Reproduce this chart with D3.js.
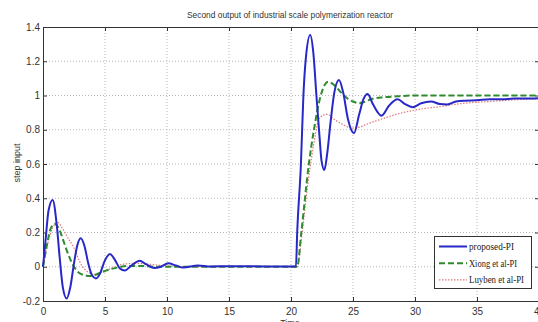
<!doctype html>
<html lang="en">
<head>
  <meta charset="utf-8">
  <title>Second output of industrial scale polymerization reactor</title>
  <style>
    body { margin: 0; background: #fff; }
    svg { display: block; }
    .grid line { stroke: #b8b8b8; stroke-width: 1; stroke-dasharray: 1, 2; }
    .tick-label { fill: #333; font: 10px "Liberation Sans Narrow", "Liberation Sans", sans-serif; }
    .legend text { fill: #222; font: 10px "Liberation Serif", serif; }
  </style>
</head>
<body>
  <div id="chart"></div>

  <script src="https://d3js.org/d3.v7.min.js"></script>
  <script>
// values: [time, output]
const proposedPI = [
  [0, 0], [0.2, 0.15], [0.45, 0.33], [0.78, 0.39], [1.1, 0.25], [1.35, 0.05],
  [1.6, -0.12], [1.91, -0.185], [2.2, -0.12], [2.5, 0.02], [2.75, 0.12], [3.04, 0.166],
  [3.35, 0.12], [3.65, 0.02], [3.95, -0.05], [4.27, -0.068], [4.6, -0.04], [4.95, 0.03],
  [5.4, 0.074], [5.8, 0.04], [6.2, -0.01], [6.6, -0.022], [7.1, 0.005], [7.8, 0.035],
  [8.3, 0.015], [9.0, -0.008], [9.5, 0.0], [10.1, 0.02], [10.7, 0.008], [11.3, -0.005],
  [12.5, 0.008], [13.5, 0.002], [15, 0.003], [18, 0.002], [20.4, 0.002],
  [20.5, 0.2], [20.8, 0.6], [21.0, 1.0], [21.2, 1.22], [21.55, 1.353], [21.8, 1.25],
  [22.05, 1.0], [22.3, 0.76], [22.46, 0.62], [22.69, 0.565], [22.9, 0.65], [23.2, 0.85],
  [23.5, 1.02], [23.87, 1.09], [24.2, 1.02], [24.6, 0.86], [25.08, 0.78], [25.5, 0.89],
  [25.85, 0.98], [26.18, 1.009], [26.6, 0.95], [27.3, 0.882], [27.9, 0.94], [28.6, 0.978],
  [29.2, 0.95], [29.8, 0.932], [30.5, 0.955], [31.3, 0.965], [32.0, 0.95], [32.6, 0.948],
  [33.3, 0.965], [34.0, 0.97], [35, 0.972], [36, 0.978], [37, 0.978], [38, 0.982],
  [39, 0.982], [40, 0.985]
];

const xiongPI = [
  [0, 0], [0.3, 0.12], [0.6, 0.22], [0.95, 0.25], [1.3, 0.22], [1.7, 0.14], [2.1, 0.06],
  [2.5, 0.0], [2.9, -0.035], [3.4, -0.05], [3.8, -0.054], [4.3, -0.045], [4.8, -0.03],
  [5.4, -0.015], [6.0, -0.005], [7.0, 0.005], [8.0, 0.005], [9.0, 0.0], [10, 0.0],
  [20.5, 0.0], [20.83, 0.2], [21.44, 0.6], [21.85, 0.8], [22.4, 1.0], [22.7, 1.06],
  [23.0, 1.08], [23.5, 1.06], [24.0, 1.02], [24.5, 0.985], [25.0, 0.965], [25.5, 0.955],
  [26.0, 0.965], [26.5, 0.98], [27.5, 0.99], [28.5, 0.995], [30, 1.0], [40, 1.0]
];

const luybenPI = [
  [0, 0], [0.4, 0.14], [0.8, 0.23], [1.15, 0.26], [1.6, 0.22], [2.0, 0.17], [2.45, 0.117],
  [3.1, 0.01], [3.6, -0.03], [4.2, -0.045], [4.8, -0.03], [5.5, -0.01], [6.5, 0.015],
  [7.5, 0.02], [8.5, 0.015], [10, 0.005], [12, 0.0], [20.5, 0.0],
  [20.9, 0.2], [21.3, 0.45], [21.8, 0.7], [22.3, 0.87], [22.9, 0.89], [23.5, 0.86],
  [24.2, 0.83], [24.9, 0.81], [25.5, 0.815], [26.2, 0.835], [27.2, 0.86], [28.5, 0.89],
  [30, 0.915], [32, 0.935], [34, 0.955], [36, 0.965], [38, 0.975], [40, 0.98]
];

const seriesNames = ['proposed-PI', 'Xiong et al-PI', 'Luyben et al-PI'];
const xTicks = [0, 5, 10, 15, 20, 25, 30, 35, 40];
const yTicks = [-0.2, 0, 0.2, 0.4, 0.6, 0.8, 1, 1.2, 1.4];

const width = 538;
const height = 322;

const svg = d3.select('#chart')
  .append('svg')
  .attr('width', width)
  .attr('height', height);

// axes box, the right edge falls just outside the picture
const x = d3.scaleLinear().domain([0, 40]).range([43, 539]);
const y = d3.scaleLinear().domain([-0.2, 1.4]).range([301, 27]);

// dotted grid
const grid = svg.append('g').attr('class', 'grid');
grid.selectAll('line.gx')
  .data(xTicks.slice(1, -1))
  .join('line')
  .attr('class', 'gx')
  .attr('x1', d => x(d)).attr('x2', d => x(d))
  .attr('y1', y(1.4)).attr('y2', y(-0.2));
grid.selectAll('line.gy')
  .data(yTicks.slice(1, -1))
  .join('line')
  .attr('class', 'gy')
  .attr('x1', x(0)).attr('x2', x(40))
  .attr('y1', d => y(d)).attr('y2', d => y(d));

// axes with inward ticks, matlab style
const fmt = d => String(+d.toFixed(1));

svg.append('g')
  .attr('transform', 'translate(0,' + y(-0.2) + ')')
  .call(d3.axisBottom(x).tickValues(xTicks).tickSize(-4).tickPadding(7).tickFormat(fmt));
svg.append('g')
  .attr('transform', 'translate(0,' + y(1.4) + ')')
  .call(d3.axisTop(x).tickValues(xTicks).tickSize(-4).tickFormat(''));
svg.append('g')
  .attr('transform', 'translate(' + x(0) + ',0)')
  .call(d3.axisLeft(y).tickValues(yTicks).tickSize(-4).tickPadding(3).tickFormat(fmt));
svg.append('g')
  .attr('transform', 'translate(' + x(40) + ',0)')
  .call(d3.axisRight(y).tickValues(yTicks).tickSize(-4).tickFormat(''));

svg.selectAll('.domain').attr('stroke', '#333');
svg.selectAll('.tick line').attr('stroke', '#333');
svg.selectAll('.tick text').attr('class', 'tick-label');

// lines
const line = d3.line()
  .x(d => x(d[0]))
  .y(d => y(d[1]))
  .curve(d3.curveMonotoneX);

const styles = [
  { data: proposedPI, color: '#2828c8', width: 2, dash: null },
  { data: xiongPI, color: '#2e8b2e', width: 2, dash: '6,3' },
  { data: luybenPI, color: '#e07878', width: 1.2, dash: '1.5,1.5' }
];

// draw luyben first so the others sit on top
svg.append('g')
  .selectAll('path')
  .data([styles[2], styles[1], styles[0]])
  .join('path')
  .attr('d', d => line(d.data))
  .attr('fill', 'none')
  .attr('stroke', d => d.color)
  .attr('stroke-width', d => d.width)
  .attr('stroke-dasharray', d => d.dash);

// titles
svg.append('text')
  .attr('x', 290)
  .attr('y', 18)
  .attr('text-anchor', 'middle')
  .attr('textLength', 206)
  .attr('lengthAdjust', 'spacingAndGlyphs')
  .style('font', '9px "Liberation Sans", sans-serif')
  .style('fill', '#333')
  .text('Second output of industrial scale polymerization reactor');

svg.append('text')
  .attr('transform', 'translate(20,163) rotate(-90)')
  .attr('text-anchor', 'middle')
  .style('font', '9px "Liberation Sans", sans-serif')
  .style('fill', '#333')
  .text('step input');

svg.append('text')
  .attr('x', 290)
  .attr('y', 326)
  .attr('text-anchor', 'middle')
  .style('font', '9px "Liberation Sans", sans-serif')
  .style('fill', '#333')
  .text('Time');

// legend box
const legend = svg.append('g').attr('class', 'legend');
legend.append('rect')
  .attr('x', 434.5).attr('y', 236.5)
  .attr('width', 97).attr('height', 52)
  .attr('fill', '#fff')
  .attr('stroke', '#333');

const textLengths = [45, 48, 55];
const rows = legend.selectAll('g')
  .data(styles)
  .join('g')
  .attr('transform', (d, i) => 'translate(0,' + (246.5 + i * 16.7) + ')');

rows.append('line')
  .attr('x1', 439).attr('x2', 467)
  .attr('stroke', d => d.color)
  .attr('stroke-width', d => d.width)
  .attr('stroke-dasharray', d => d.dash);

rows.append('text')
  .attr('x', 469)
  .attr('y', 3.5)
  .attr('textLength', (d, i) => textLengths[i])
  .attr('lengthAdjust', 'spacingAndGlyphs')
  .text((d, i) => seriesNames[i]);
  </script>
</body>
</html>
